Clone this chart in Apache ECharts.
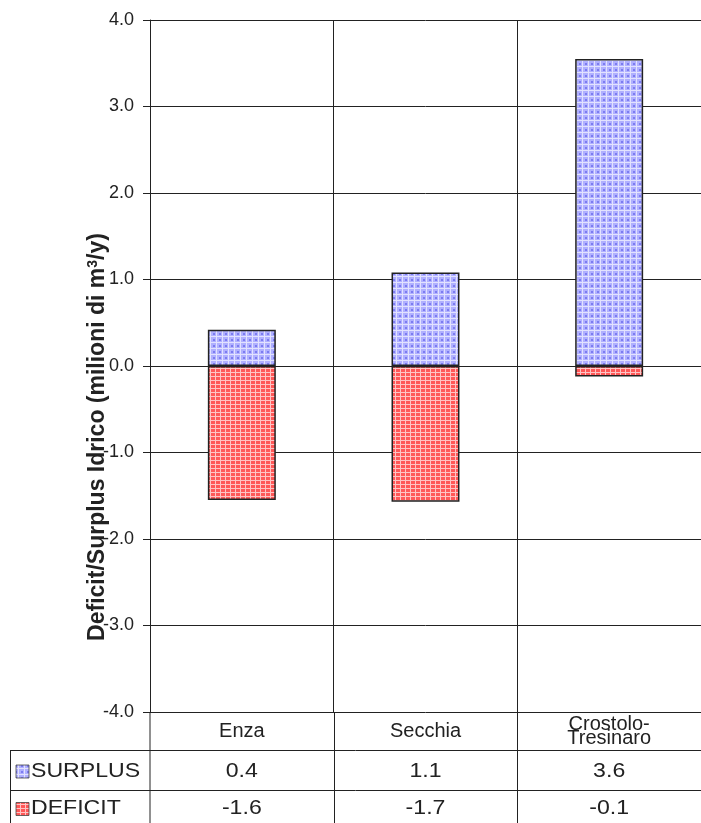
<!DOCTYPE html>
<html><head><meta charset="utf-8">
<script src="https://cdn.jsdelivr.net/npm/echarts@6/dist/echarts.min.js"></script>
<style>html,body{margin:0;padding:0;background:#fff}#c{width:701px;height:823px}</style>
</head><body><div id="c"></div>
<script>
const categories = ['Enza', 'Secchia', 'Crostolo-\nTresinaro'];
const surplus = [0.42, 1.08, 3.55];
const deficit = [-1.55, -1.57, -0.12];
const surplusLabels = ['0.4', '1.1', '3.6'];
const deficitLabels = ['-1.6', '-1.7', '-0.1'];
const rowNames = ['SURPLUS', 'DEFICIT'];
const yMin = -4, yMax = 4, yStep = 1;

function makeBlue() {
  const c = document.createElement('canvas'); c.width = 6; c.height = 6;
  const g = c.getContext('2d');
  g.fillStyle = '#b0b0ff'; g.fillRect(0, 0, 6, 6);
  g.fillStyle = '#e2e2ff'; g.fillRect(0, 0, 6, 1); g.fillRect(0, 0, 1, 6);
  g.fillStyle = '#7c7cf0'; g.fillRect(3, 3, 2, 2);
  return c;
}
function makeRed() {
  const c = document.createElement('canvas'); c.width = 5; c.height = 4;
  const g = c.getContext('2d');
  g.fillStyle = '#ff5858'; g.fillRect(0, 0, 5, 4);
  g.fillStyle = '#ffc4c4'; g.fillRect(0, 0, 5, 1); g.fillRect(0, 0, 1, 4);
  return c;
}
const bluePat = { image: makeBlue(), repeat: 'repeat' };
const redPat = { image: makeRed(), repeat: 'repeat' };

const GL = 150, GR = 701, GT = 20, GB = 712;
const W = 701, H = 823;
const chart = echarts.init(document.getElementById('c'), null, { renderer: 'canvas' });
const lineCol = '#222';
const font = 'Liberation Sans, Arial, sans-serif';

const option = {
  animation: false,
  backgroundColor: '#fff',
  grid: { left: GL, right: W - GR, top: GT, bottom: H - GB, containLabel: false },
  xAxis: {
    type: 'category', data: categories,
    axisLine: { show: true, lineStyle: { color: lineCol, width: 1 } },
    axisTick: { show: false },
    splitLine: { show: true, lineStyle: { color: lineCol, width: 1 } },
    axisLabel: { color: '#222', fontSize: 20, fontFamily: font, margin: 19, verticalAlign: 'middle', lineHeight: 14, interval: 0 }
  },
  yAxis: {
    type: 'value', min: yMin, max: yMax, interval: yStep,
    axisLine: { show: true, lineStyle: { color: lineCol, width: 1 } },
    axisTick: { show: true, length: 7, lineStyle: { color: lineCol } },
    splitLine: { show: true, lineStyle: { color: lineCol, width: 1 } },
    axisLabel: { color: '#222', fontSize: 18, fontFamily: font, margin: 16, formatter: v => v.toFixed(1) }
  },
  series: [
    { name: 'SURPLUS', type: 'bar', data: surplus, barWidth: '37%', barGap: '-100%',
      itemStyle: { color: bluePat, borderColor: '#222', borderWidth: 1.5 } },
    { name: 'DEFICIT', type: 'bar', data: deficit, barWidth: '37%', barGap: '-100%',
      itemStyle: { color: redPat, borderColor: '#222', borderWidth: 1.5 } }
  ]
};
chart.setOption(option);

// table below
const n = categories.length;
const bw = (GR - GL) / n;
const rowTop = 750, rowMid = 790, rowBot = 823, tableLeft = 10;
const g = [];
const ln = (x1, y1, x2, y2) => g.push({ type: 'line', shape: { x1, y1, x2, y2 }, style: { stroke: lineCol, lineWidth: 1 }, z: 10 });
ln(GL, GB, GL, rowBot);
for (let i = 1; i <= n; i++) ln(Math.round(GL + i * bw) + 0.5, GB, Math.round(GL + i * bw) + 0.5, rowBot);
ln(tableLeft, rowTop + 0.5, GR, rowTop + 0.5);
ln(tableLeft, rowMid + 0.5, GR, rowMid + 0.5);
ln(tableLeft + 0.5, rowTop, tableLeft + 0.5, rowBot);
const rowsY = [(rowTop + rowMid) / 2 + 1, (rowMid + rowBot) / 2 + 2];
const rowLabels = [surplusLabels, deficitLabels];
const pats = [bluePat, redPat];
for (let r = 0; r < 2; r++) {
  g.push({ type: 'rect', shape: { x: 16, y: rowsY[r] - 6, width: 13, height: 13 }, style: { fill: pats[r], stroke: '#444', lineWidth: 0.8 }, z: 10 });
  g.push({ type: 'text', x: 31, y: rowsY[r], scaleX: 1.1, style: { text: rowNames[r], fill: '#222', fontSize: 21, fontFamily: font, align: 'left', verticalAlign: 'middle' }, z: 10 });
  for (let i = 0; i < n; i++) {
    g.push({ type: 'text', x: GL + (i + 0.5) * bw, y: rowsY[r], scaleX: 1.1, style: { text: rowLabels[r][i], fill: '#222', fontSize: 21, fontFamily: font, align: 'center', verticalAlign: 'middle' }, z: 10 });
  }
}
g.push({
  type: 'text', x: 98, y: 437, rotation: Math.PI / 2, z: 20,
  style: {
    text: '{a|Deficit/Surplus Idrico (milioni di m}{s|3}{a|/y)}',
    align: 'center', verticalAlign: 'middle',
    rich: {
      a: { fontSize: 23, fontFamily: font, fill: '#222', fontWeight: 'bold' },
      s: { fontSize: 14, fontFamily: font, fill: '#222', fontWeight: 'bold', verticalAlign: 'top', padding: [0, 0, 10, 0] }
    }
  }
});
chart.setOption({ graphic: g });
</script></body></html>
